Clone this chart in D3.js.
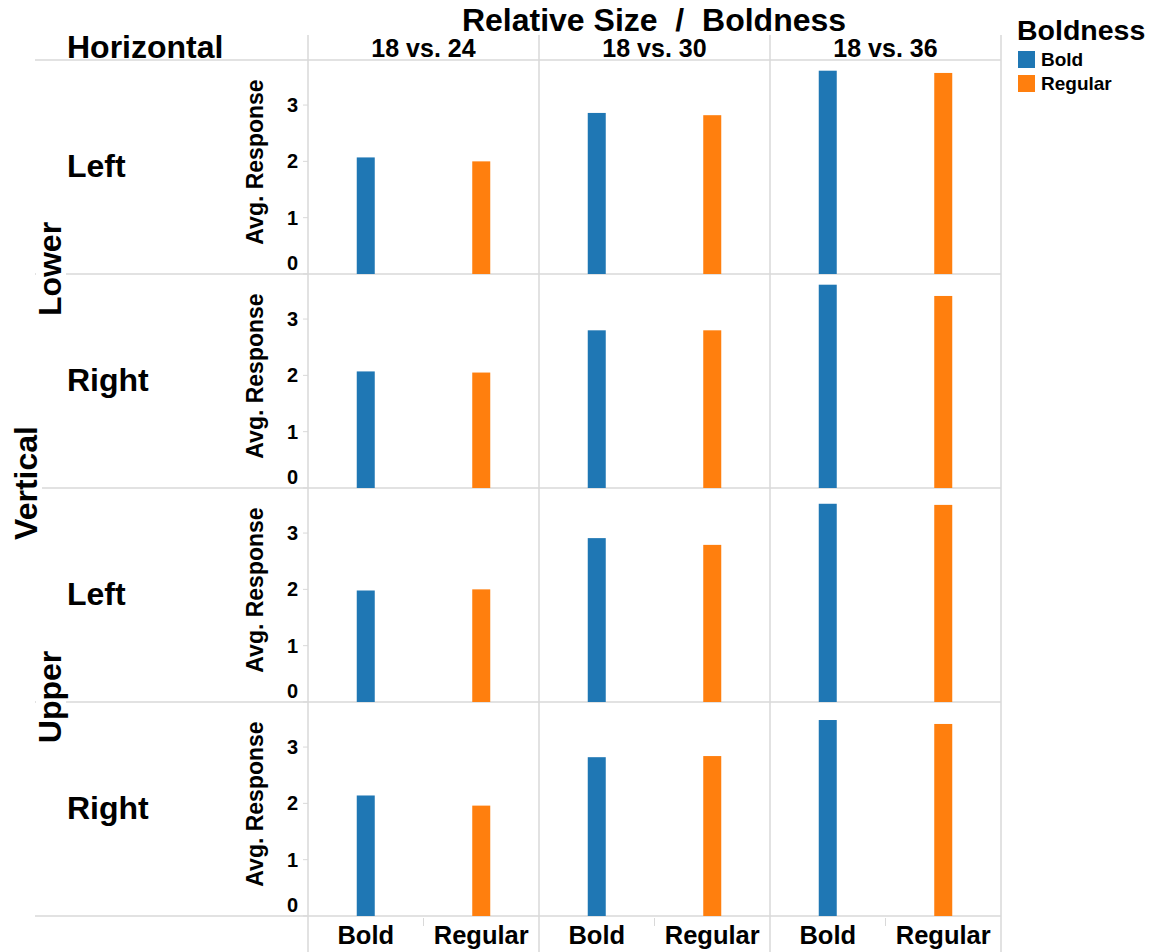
<!DOCTYPE html>
<html><head><meta charset="utf-8">
<script src="https://cdn.jsdelivr.net/npm/d3@7"></script>
<style>body{margin:0;background:#fff;} text{font-family:"Liberation Sans",Arial,sans-serif;font-weight:bold;fill:#000;}</style>
</head><body><svg id="c" width="1156" height="952"></svg>
<script>
const sizes = ["18 vs. 24", "18 vs. 30", "18 vs. 36"];
const boldness = ["Bold", "Regular"];
const verticalGroups = ["Lower", "Upper"];
const rowVertical = ["Lower", "Lower", "Upper", "Upper"];
const rowHorizontal = ["Left", "Right", "Left", "Right"];
const boldValues = [
  [2.07, 2.86, 3.61],
  [2.07, 2.80, 3.61],
  [1.98, 2.91, 3.52],
  [2.14, 2.82, 3.48]
];
const regularValues = [
  [2.00, 2.82, 3.57],
  [2.05, 2.80, 3.41],
  [2.00, 2.79, 3.50],
  [1.96, 2.84, 3.41]
];
const yTicks = [0, 1, 2, 3];
const colors = {Bold: "#1f77b4", Regular: "#ff7f0e"};

const svg = d3.select("#c");
const gridColor = "#d9d9d9";
const pLeft = 308, pRight = 1001, pTop = 60, rowH = 214, lineLeft = 35;
const nRows = rowHorizontal.length;
const pBottom = pTop + rowH * nRows;

const xCol = d3.scaleBand().domain(sizes).range([pLeft, pRight]);
const xIn = d3.scaleBand().domain(boldness).range([0, xCol.bandwidth()]);
const y = d3.scaleLinear().domain([0, 3.8]).range([rowH, 0]);

// grid lines
for (let i = 0; i <= nRows; i++) {
  svg.append("line").attr("x1", lineLeft).attr("x2", pRight).attr("y1", pTop + i * rowH).attr("y2", pTop + i * rowH)
    .attr("stroke", gridColor).attr("stroke-width", 1.5);
}
[pLeft, ...sizes.map(s => xCol(s) + xCol.bandwidth())].forEach(x => {
  svg.append("line").attr("x1", x).attr("x2", x).attr("y1", 35).attr("y2", 952)
    .attr("stroke", gridColor).attr("stroke-width", 1.5);
});
// small separators at bottom
sizes.forEach(s => {
  const x = xCol(s) + xIn.bandwidth();
  svg.append("line").attr("x1", x).attr("x2", x).attr("y1", pBottom + 2).attr("y2", pBottom + 10)
    .attr("stroke", gridColor).attr("stroke-width", 1);
});

// title
svg.append("text").attr("x", 654).attr("y", 31).attr("text-anchor", "middle").attr("font-size", 32)
  .style("white-space", "pre").text("Relative Size  /  Boldness");
// column headers
sizes.forEach(s => {
  svg.append("text").attr("x", xCol(s) + xCol.bandwidth() / 2).attr("y", 57).attr("text-anchor", "middle")
    .attr("font-size", 25).text(s);
});
svg.append("text").attr("x", 67).attr("y", 58).attr("font-size", 32).text("Horizontal");

// rotated labels with white backing
function rotLabel(cx, cy, txt) {
  const g = svg.append("g").attr("transform", `translate(${cx},${cy}) rotate(-90)`);
  const bg = g.append("rect").attr("fill", "#fff");
  const t = g.append("text").attr("text-anchor", "middle").attr("font-size", 32).text(txt);
  const bb = t.node().getBBox();
  bg.attr("x", bb.x).attr("y", bb.y + 4).attr("width", bb.width).attr("height", bb.height - 6);
}
rotLabel(37, pTop + rowH * nRows / 2 - 5, "Vertical");
verticalGroups.forEach(g => {
  const idx = rowVertical.map((v, i) => v === g ? i : -1).filter(i => i >= 0);
  const cy = pTop + rowH * (idx[0] + idx[idx.length - 1] + 1) / 2;
  rotLabel(61, cy - 5, g);
});

// rows
rowHorizontal.forEach((h, r) => {
  const g = svg.append("g").attr("transform", `translate(0,${pTop + r * rowH})`);
  g.append("text").attr("x", 67).attr("y", rowH / 2 + 10).attr("font-size", 32).text(h);
  g.append("text").attr("transform", `translate(263,${rowH / 2 - 5}) rotate(-90)`).attr("text-anchor", "middle")
    .attr("font-size", 23).text("Avg. Response");
  yTicks.forEach(t => {
    g.append("line").attr("x1", pLeft - 5).attr("x2", pLeft).attr("y1", y(t)).attr("y2", y(t)).attr("stroke", gridColor);
    g.append("text").attr("x", 298).attr("y", t === 0 ? y(t) - 4 : y(t) + 7).attr("text-anchor", "end")
      .attr("font-size", 20).text(t);
  });
  sizes.forEach((s, c) => {
    boldness.forEach(b => {
      const v = (b === "Bold" ? boldValues : regularValues)[r][c];
      const cx = xCol(s) + xIn(b) + xIn.bandwidth() / 2;
      g.append("rect").attr("x", cx - 9).attr("width", 18).attr("y", y(v)).attr("height", y(0) - y(v))
        .attr("fill", colors[b]);
    });
  });
});

// bottom labels
sizes.forEach(s => {
  boldness.forEach(b => {
    svg.append("text").attr("x", xCol(s) + xIn(b) + xIn.bandwidth() / 2).attr("y", 944).attr("text-anchor", "middle")
      .attr("font-size", 25.5).text(b);
  });
});

// legend
svg.append("text").attr("x", 1017).attr("y", 40).attr("font-size", 28.5).text("Boldness");
boldness.forEach((b, i) => {
  svg.append("rect").attr("x", 1018).attr("y", 51 + i * 24).attr("width", 17).attr("height", 17).attr("fill", colors[b]);
  svg.append("text").attr("x", 1041).attr("y", 66 + i * 24).attr("font-size", 19).text(b);
});
</script></body></html>
